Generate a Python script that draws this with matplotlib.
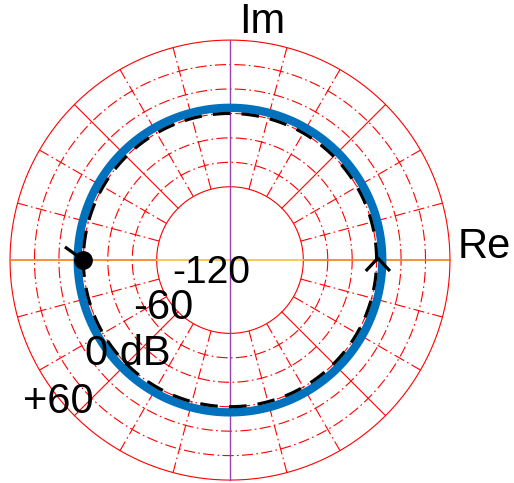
import numpy as np
import matplotlib
matplotlib.use("Agg")
import matplotlib.pyplot as plt

plt.rcParams['font.family'] = ['Liberation Sans', 'DejaVu Sans']

# grid (log-polar rings), in plot units
ring_radii = [3, 4, 5, 6, 7, 8, 9]
solid_rings = [3, 9]
spoke_angles = list(range(0, 360, 15))
solid_spokes = [45, 135, 225, 315]
ring_labels = ['-120', '-60', '0 dB', '+60']
label_pos = [(-0.76, -0.53), (-2.74, -1.96), (-4.19, -3.85), (-7.04, -5.81)]
label_sizes = [28, 30, 30, 30]

# Nyquist curves (radius in plot units)
pos_freq_radius = 6.23
neg_freq_radius = 6.0

fig = plt.figure(figsize=(5.14, 4.83), dpi=100)
ax = fig.add_axes([0, 0, 1, 1])
ax.set_xlim(-9.41, 11.62)
ax.set_ylim(-9.12, 10.64)
ax.axis('off')

t = np.linspace(0, 2 * np.pi, 721)
red = '#ff0000'
dashdot = (0, (10, 3, 1.5, 3))
for r in ring_radii:
    ls = '-' if r in solid_rings else dashdot
    ax.plot(r * np.cos(t), r * np.sin(t), color=red, lw=0.8, ls=ls, zorder=1)
for a in spoke_angles:
    if a % 90 == 0:
        continue
    ar = np.deg2rad(a)
    ls = '-' if a in solid_spokes else dashdot
    ax.plot([3 * np.cos(ar), 9 * np.cos(ar)], [3 * np.sin(ar), 9 * np.sin(ar)],
            color=red, lw=0.8, ls=ls, zorder=1)

# axes lines
ax.plot([-9, -3], [0, 0], color='#f07f1a', lw=1.2, zorder=2)
ax.plot([3, 9], [0, 0], color='#f07f1a', lw=1.2, zorder=2)
ax.plot([-3, 3], [0, 0], color='#f5c040', lw=1.2, zorder=2)
ax.plot([0, 0], [-9, 9], color='#9a3fb0', lw=1.0, zorder=2)

# curves
ax.plot(pos_freq_radius * np.cos(t), pos_freq_radius * np.sin(t),
        color='#0072bd', lw=6.0, zorder=3, solid_capstyle='butt')
ax.plot(neg_freq_radius * np.cos(t), neg_freq_radius * np.sin(t),
        color='black', lw=2.3, ls=(0, (5.5, 3.5)), zorder=4)
ax.plot([-neg_freq_radius], [0], 'o', color='black', ms=12.5, zorder=5)
# arrows
ax.plot([-6.7, -6.0], [0.5, 0.0], color='black', lw=2.3, zorder=5)
ax.plot([5.6, 6.05, 6.5], [-0.4, 0.08, -0.4], color='black', lw=2.3, zorder=5)

ax.text(1.31, 9.74, 'Im', fontsize=30, ha='center', va='center', zorder=6)
ax.text(10.4, 0.53, 'Re', fontsize=30, ha='center', va='center', zorder=6)
for lab, (x, y), fs in zip(ring_labels, label_pos, label_sizes):
    ax.text(x, y, lab, fontsize=fs, ha='center', va='center', zorder=6)

fig.savefig('out.png', dpi=100)
